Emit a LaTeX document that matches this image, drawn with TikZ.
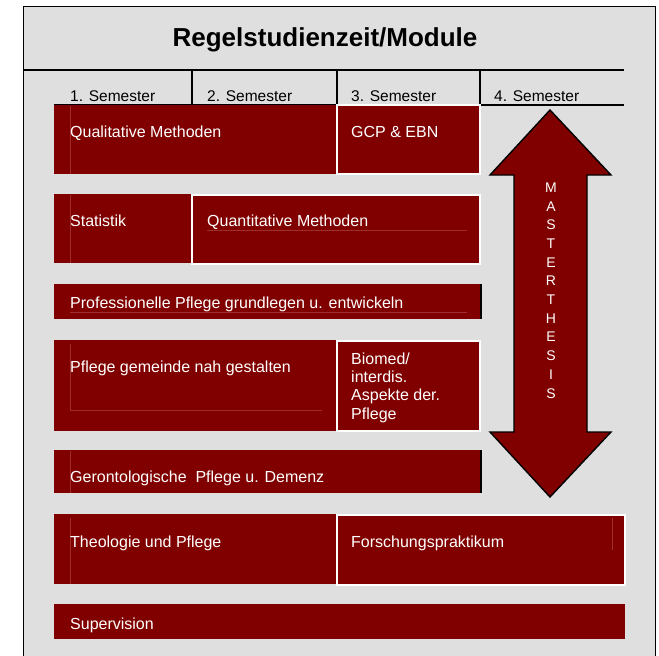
\documentclass[tikz,border=0pt]{standalone}
\usepackage{fontspec}
\setmainfont{Liberation Sans}
\usepackage{xcolor}
\usepackage{tikz}

\definecolor{dunkelrot}{RGB}{128,0,0}
\definecolor{hellgrau}{RGB}{223,223,223}
\definecolor{schwachrot}{RGB}{160,45,45}

\tikzset{
  modul/.style={fill=dunkelrot},
  weissrand/.style={draw=white,line width=1.6pt},
  modtext/.style={anchor=base west,text=white,inner sep=0pt,
    font=\fontsize{16}{18.3}\selectfont},
  semtext/.style={anchor=base west,inner sep=0pt,
    font=\fontsize{15.5}{18.3}\selectfont},
  strich/.style={line width=1.8pt},
  hilfslinie/.style={schwachrot,line width=0.6pt}
}

\begin{document}
\begin{tikzpicture}[x=1pt,y=-1pt]

    \useasboundingbox (0,0) rectangle (659,656);
    \fill[hellgrau] (23,6) rectangle (656,656);
    \draw[strich] (23.5,656) -- (23.5,6.5) -- (655.5,6.5) -- (655.5,656);
          % Frame, open at the bottom

    \node[anchor=base,inner sep=0pt,font=\bfseries\fontsize{26}{30}\selectfont] (titel) at (325,46) {Regelstudienzeit/Module};

    \draw[strich] (23.5,70) -- (624,70);
    \draw[strich] (54,105) -- (624,105);
    \foreach \x in {192,337,480}{% Column separators in the header
      \draw[strich] (\x,70) -- (\x,105);
    }
    \foreach \x/\n in {70/1,207/2,351/3,494/4}{%
      \node[semtext] (sem\n) at (\x,101) {\n. Semester};
    }

		% Modules, row by row
		\fill[modul] (54,105) rectangle (337,174);
		\draw[hilfslinie] (70,106) -- (70,174);
		\node[modtext] (qual) at (70,137) {Qualitative Methoden};
		\filldraw[modul,weissrand] (337,105) rectangle (480,174);
		\node[modtext] (gcp) at (351,137) {GCP \& EBN};

		\fill[modul] (54,194) rectangle (192,263);
		\draw[hilfslinie] (70,195) -- (70,263);
		\node[modtext] (stat) at (70,226) {Statistik};
		\filldraw[modul,weissrand] (192,195) rectangle (480,264);
		\draw[hilfslinie] (207,230) -- (467,230);
		\node[modtext] (quant) at (207,226) {Quantitative Methoden};

		\fill[modul] (54,284) rectangle (480,319);
		\draw[line width=1.5pt] (481,284) -- (481,319);
		\draw[hilfslinie] (70,312) -- (467,312);
		\node[modtext] (prof) at (70,308) {Professionelle Pflege grundlegen u. entwickeln};

		\fill[modul] (54,340) rectangle (337,431);
		\draw[hilfslinie] (70,344) -- (70,410) -- (322,410);
		\node[modtext] (gemeinde) at (70,372) {Pflege gemeinde nah gestalten};
		\filldraw[modul,weissrand] (337,341) rectangle (480,431);
		\node[modtext,align=left] (biomed) at (351,419) {Biomed/\\interdis.\\Aspekte der.\\Pflege};
		    % base anchor sits on the last line

		\fill[modul] (54,450) rectangle (480,493);
		\draw[line width=1.5pt] (481,450) -- (481,493);
		\draw[hilfslinie] (70,451) -- (70,493);
		\node[modtext] (geronto) at (70,482) {Gerontologische\ \ Pflege u. Demenz};

		\fill[modul] (54,514) rectangle (337,584);
		\draw[hilfslinie] (70,518) -- (70,584);
		\node[modtext] (theo) at (70,547) {Theologie und Pflege};
		\filldraw[modul,weissrand] (337,515) rectangle (625,585);
		\draw[hilfslinie] (612,518) -- (612,550);
		\node[modtext] (forschung) at (351,547) {Forschungspraktikum};

		\fill[modul] (54,604) rectangle (625,639);
		\node[modtext] (supervision) at (70,629) {Supervision};

		% Master thesis arrow
		\filldraw[fill=dunkelrot,draw=black,line width=1.4pt,line join=miter]
		  (550,110) -- (611,175) -- (587,175) -- (587,432) -- (611,432)
		  -- (550,497) -- (490,432) -- (514,432) -- (514,175) -- (490,175) -- cycle;
		\foreach \b [count=\i] in {M,A,S,T,E,R,T,H,E,S,I,S}{%
		  \node[text=white,inner sep=0pt,font=\fontsize{14}{16}\selectfont] (mt\i) at (551,187.5+18.7*\i-18.7) {\b};
		}

\end{tikzpicture}
\end{document}
